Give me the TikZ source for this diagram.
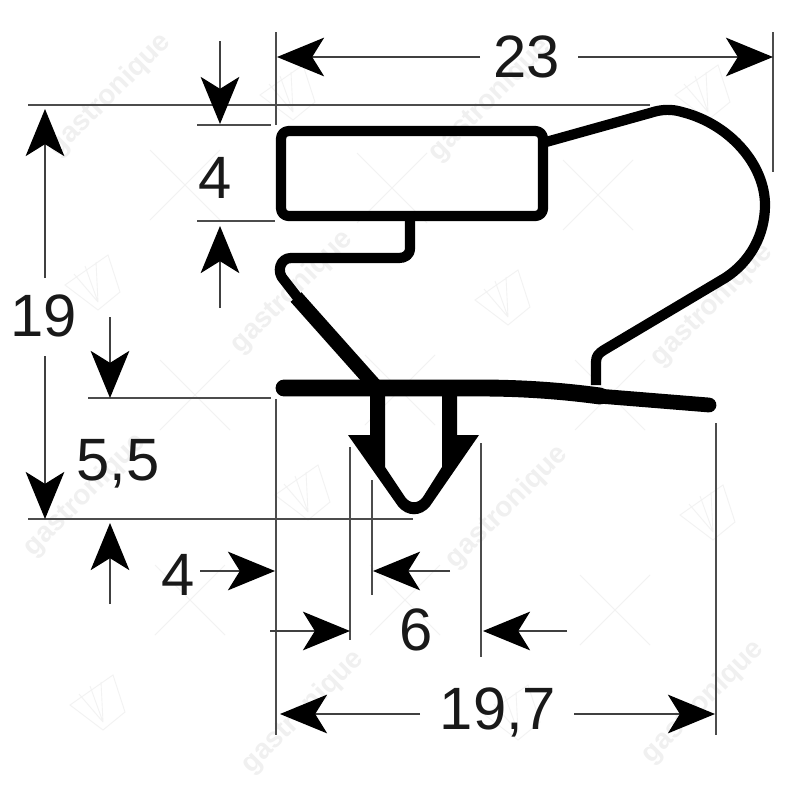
\documentclass[tikz,border=0pt]{standalone}
\usepackage{fontspec}
\setmainfont{Liberation Sans}
\usetikzlibrary{arrows.meta}
\tikzset{
  dimline/.style={draw=black!70,line width=0.4pt},
  dimarrow/.style={draw=black!75,line width=0.45pt,-{Stealth[length=13.4pt,width=11pt,inset=3.4pt,color=black]}},
  profile/.style={draw=black,line width=2.9pt,line join=round},
  dimtext/.style={font=\fontsize{17}{20}\selectfont,text=black!90,inner sep=0pt},
  wmtext/.style={font=\fontsize{8}{10}\selectfont\bfseries,text=black!6,rotate=45,inner sep=0pt},
  wmline/.style={draw=black!5,line width=0.25pt}
}
\begin{document}
\begin{tikzpicture}[x=0.01cm,y=-0.01cm]
\useasboundingbox (0,0) rectangle (800,800);
\fill[white] (0,0) rectangle (800,800);
% watermark
\foreach \cx/\cy in {185/185,392/188,598/195,195/395,400/390,610/395,190/600,405/600,615/610}
  {\draw[wmline] (\cx-35,\cy-35) -- (\cx+35,\cy+35) (\cx-35,\cy+35) -- (\cx+35,\cy-35);}
\foreach \fx/\fy in {90/280,500/295,700/90,285/90,300/490,705/510,95/700,510/710}
  {\draw[wmline] (\fx-25,\fy+5) -- (\fx+18,\fy-25) -- (\fx+30,\fy+12) -- (\fx+8,\fy+30) -- cycle
     (\fx+8,\fy+22) -- (\fx-16,\fy-6) (\fx+8,\fy+22) -- (\fx-5,\fy-14) (\fx+8,\fy+22) -- (\fx+6,\fy-18);}
\node[wmtext] (w1) at (110,95) {gastronique};
\node[wmtext] (w2) at (490,100) {gastronique};
\node[wmtext] (w3) at (292,292) {gastronique};
\node[wmtext] (w4) at (712,305) {gastronique};
\node[wmtext] (w5) at (85,495) {gastronique};
\node[wmtext] (w6) at (507,507) {gastronique};
\node[wmtext] (w7) at (303,712) {gastronique};
\node[wmtext] (w8) at (703,702) {gastronique};
% extension lines
\coordinate (xa1) at (276,32); \coordinate (xa2) at (276,125);
\coordinate (xb1) at (773,32); \coordinate (xb2) at (773,172);
\coordinate (ya1) at (28,105); \coordinate (ya2) at (650,105);
\coordinate (yb1) at (197,125); \coordinate (yb2) at (271,125);
\coordinate (yc1) at (197,221); \coordinate (yc2) at (275,221);
\coordinate (yd1) at (88,398); \coordinate (yd2) at (271,398);
\coordinate (ye1) at (28,519); \coordinate (ye2) at (413,519);
\coordinate (xc1) at (276,399); \coordinate (xc2) at (276,735);
\coordinate (xd1) at (350,447); \coordinate (xd2) at (350,640);
\coordinate (xe1) at (372,480); \coordinate (xe2) at (372,595);
\coordinate (xf1) at (481,443); \coordinate (xf2) at (481,657);
\coordinate (xg1) at (716,423); \coordinate (xg2) at (716,735);
\draw[dimline] (xa1) -- (xa2);
\draw[dimline] (xb1) -- (xb2);
\draw[dimline] (ya1) -- (ya2);
\draw[dimline] (yb1) -- (yb2);
\draw[dimline] (yc1) -- (yc2);
\draw[dimline] (yd1) -- (yd2);
\draw[dimline] (ye1) -- (ye2);
\draw[dimline] (xc1) -- (xc2);
\draw[dimline] (xd1) -- (xd2);
\draw[dimline] (xe1) -- (xe2);
\draw[dimline] (xf1) -- (xf2);
\draw[dimline] (xg1) -- (xg2);
% labels
\node[dimtext] (t23) at (527,57) {23};
\node[dimtext] (t19) at (44,316) {19};
\node[dimtext] (t4a) at (215,178) {4};
\node[dimtext] (t55) at (118,464) {5,5};
\node[dimtext] (t4b) at (178,575) {4};
\node[dimtext] (t6) at (416,630) {6};
\node[dimtext] (t197) at (498,712) {19,7};
% dimension arrows
\coordinate (a1s) at (480,57); \coordinate (a1e) at (277,57);
\coordinate (a2s) at (578,57); \coordinate (a2e) at (773,57);
\coordinate (a3s) at (45,278); \coordinate (a3e) at (45,109);
\coordinate (a4s) at (45,356); \coordinate (a4e) at (45,519);
\coordinate (a5s) at (220,41); \coordinate (a5e) at (220,124);
\coordinate (a6s) at (220,308); \coordinate (a6e) at (220,226);
\coordinate (a7s) at (110,317); \coordinate (a7e) at (110,398);
\coordinate (a8s) at (110,604); \coordinate (a8e) at (110,523);
\coordinate (a9s) at (200,571); \coordinate (a9e) at (275,571);
\coordinate (a10s) at (270,631); \coordinate (a10e) at (350,631);
\coordinate (a11s) at (450,571); \coordinate (a11e) at (373,571);
\coordinate (a12s) at (567,631); \coordinate (a12e) at (483,631);
\coordinate (a13s) at (420,714); \coordinate (a13e) at (280,714);
\coordinate (a14s) at (574,714); \coordinate (a14e) at (715,714);
\foreach \n in {1,...,14} {\draw[dimarrow] (a\n s) -- (a\n e);}
% profile
\draw[profile,rounded corners=2.2pt] (281,131) rectangle (543,216);
\draw[profile] (546,142) -- (650,113) .. controls (662,109) and (672,109) .. (682,112)
  .. controls (730,124) and (765,165) .. (765,205)
  .. controls (765,235) and (750,262) .. (725,278) -- (604,350)
  .. controls (599,353) and (596,356) .. (596,362) -- (596,385);
\draw[profile] (410,218) -- (410,248) .. controls (410,255) and (405,258) .. (399,258)
  -- (291,258) .. controls (280,258) and (276,272) .. (284,280) -- (298,298);
\draw[draw=black,line width=4.1pt] (296,297) -- (377,388);
\draw[draw=black,line width=4.8pt,line cap=round] (284,388) -- (480,388) .. controls (530,388) and (570,392) .. (600,396);
\draw[draw=black,line width=4.2pt,line cap=round] (598,396) -- (709,405);
\fill[black] (370,395) -- (370,435) -- (348,435) -- (398,506) .. controls (407,517) and (421,517) .. (430,506)
  -- (479,435) -- (457,435) -- (457,395) -- (442,395) -- (442,467) -- (423,497)
  .. controls (418,504) and (410,504) .. (405,497) -- (385,467) -- (385,395) -- cycle;
\end{tikzpicture}
\end{document}
